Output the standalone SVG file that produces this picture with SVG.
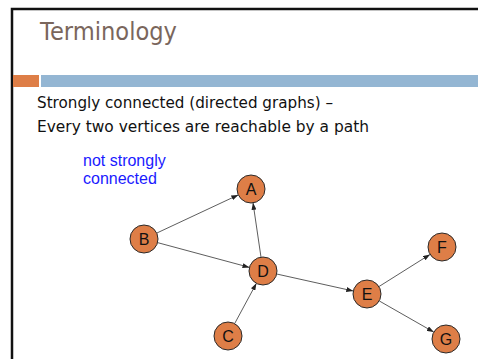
<svg xmlns="http://www.w3.org/2000/svg" width="478" height="359" viewBox="0 0 478 359">
<defs>
<marker id="arr" markerUnits="userSpaceOnUse" markerWidth="7" markerHeight="5" refX="7" refY="2.5" orient="auto">
<path d="M0,0 L7,2.5 L0,5 Z" fill="#222"/>
</marker>
<style>
.node circle{fill:#DE7E47;stroke:#2a2a2a;stroke-width:1}
.node text{font-family:"Liberation Sans",Arial,sans-serif;font-size:16px;fill:#111;text-anchor:middle}
.edge{stroke:#333;stroke-width:0.8;fill:none;marker-end:url(#arr)}
.body{font-family:"DejaVu Sans","Liberation Sans",sans-serif;font-size:15px;fill:#111}
</style>
</defs>
<rect x="0" y="0" width="478" height="359" fill="#fff"/>
<path d="M12,359 V9 H478" fill="none" stroke="#111" stroke-width="2.5"/>
<text x="40" y="40" font-family="'DejaVu Sans','Liberation Sans',sans-serif" font-size="24" fill="#7A665C" textLength="137" lengthAdjust="spacingAndGlyphs">Terminology</text>
<rect x="13" y="75" width="26" height="12" fill="#DE7E47"/>
<rect x="41" y="75" width="437" height="12" fill="#94B6D3"/>
<text class="body" x="37" y="108" textLength="296" lengthAdjust="spacingAndGlyphs">Strongly connected (directed graphs) –</text>
<text class="body" x="37" y="132" textLength="332" lengthAdjust="spacingAndGlyphs">Every two vertices are reachable by a path</text>
<text x="83" y="166" font-family="'Liberation Sans',Arial,sans-serif" font-size="16" fill="#1a1aff">not strongly</text>
<text x="83" y="184" font-family="'Liberation Sans',Arial,sans-serif" font-size="16" fill="#1a1aff">connected</text>
<g id="connectors">
<line class="edge" x1="156.7" y1="233.1" x2="238.3" y2="194.9"/>
<line class="edge" x1="157.5" y1="242.6" x2="249.5" y2="267.4"/>
<line class="edge" x1="261" y1="257.2" x2="253" y2="202.8"/>
<line class="edge" x1="234.6" y1="323.7" x2="256.4" y2="283.3"/>
<line class="edge" x1="276.7" y1="274" x2="353.3" y2="291"/>
<line class="edge" x1="378.9" y1="286.6" x2="430.1" y2="254.4"/>
<line class="edge" x1="379.2" y1="300.9" x2="433.8" y2="332.1"/>
</g>
<g id="A" class="node"><circle cx="251" cy="189" r="14"/><text x="251" y="194.5">A</text></g>
<g id="B" class="node"><circle cx="144" cy="239" r="14"/><text x="144" y="244.5">B</text></g>
<g id="C" class="node"><circle cx="228" cy="336" r="14"/><text x="228" y="341.5">C</text></g>
<g id="D" class="node"><circle cx="263" cy="271" r="14"/><text x="263" y="276.5">D</text></g>
<g id="E" class="node"><circle cx="367" cy="294" r="14"/><text x="367" y="299.5">E</text></g>
<g id="F" class="node"><circle cx="442" cy="247" r="14"/><text x="442" y="252.5">F</text></g>
<g id="G" class="node"><circle cx="446" cy="339" r="14"/><text x="446" y="344.5">G</text></g>
</svg>
